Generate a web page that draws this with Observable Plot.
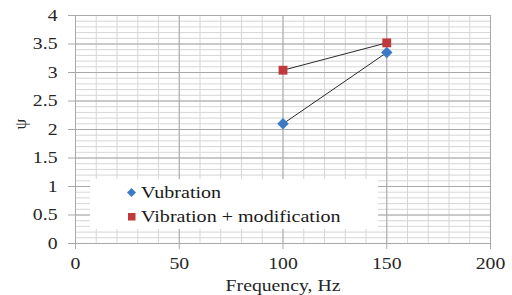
<!DOCTYPE html>
<html><head><meta charset="utf-8">
<script src="https://cdn.jsdelivr.net/npm/d3@7"></script>
<script src="https://cdn.jsdelivr.net/npm/@observablehq/plot@0.6"></script>
<style>
body{margin:0;background:#fff;}
#wrap{position:relative;width:512px;height:295px;}
.legend{position:absolute;left:90px;top:179px;width:288px;height:50px;background:#fff;font-family:'Liberation Serif','Times New Roman',Tinos,serif;font-size:17px;color:#1a1a1a;}
.item{position:absolute;left:36px;height:22px;line-height:22px;white-space:nowrap;}
.item svg{position:absolute;left:0;top:5px;}
.item span{position:absolute;left:15px;top:0;transform:scaleX(1.18);transform-origin:left center;}
</style></head><body><div id="wrap"></div>
<script>
const frequencies = [100, 150];
const vubration = [2.1, 3.35];
const modification = [3.04, 3.52];
const seriesNames = ["Vubration", "Vibration + modification"];
const seriesColors = ["#3d7ac4", "#c0393b"];
const seriesSymbols = ["diamond2", "square"];
const xTicks = [0, 50, 100, 150, 200];
const yTicks = [0, 0.5, 1, 1.5, 2, 2.5, 3, 3.5, 4];
const xLabel = "Frequency, Hz";
const yLabel = "ψ";

const xMinor = d3.range(0, 201, 10);
const yMinor = d3.range(0, 41).map(i => i / 10);

const data = [];
[vubration, modification].forEach((vals, s) => {
  frequencies.forEach((f, i) => data.push({series: seriesNames[s], x: f, y: vals[i]}));
});

const FONT = "'Liberation Serif', 'Times New Roman', Tinos, serif";
const FS = 17;

const chart = Plot.plot({
  width: 512, height: 295,
  marginLeft: 75, marginRight: 22, marginTop: 15, marginBottom: 52,
  style: {fontFamily: FONT, fontSize: FS + "px", color: "#262626", background: "white", overflow: "visible"},
  x: {domain: [0, 200], label: null},
  y: {domain: [0, 4], label: null},
  color: {domain: seriesNames, range: seriesColors},
  symbol: {domain: seriesNames, range: seriesSymbols},
  marks: [
    Plot.ruleX(xMinor, {stroke: "#d6d6d6"}),
    Plot.ruleY(yMinor, {stroke: "#d6d6d6"}),
    Plot.ruleX(xTicks, {stroke: "#a8a8a8"}),
    Plot.ruleY(yTicks, {stroke: "#a8a8a8"}),
    Plot.axisX({ticks: xTicks, tickSize: 6, tickPadding: 7, stroke: "#a8a8a8", fill: "#262626", fontFamily: FONT, fontSize: FS, tickFormat: d => String(d)}),
    Plot.axisY({ticks: yTicks, tickSize: 7, tickPadding: 11, stroke: "#a8a8a8", fill: "#262626", fontFamily: FONT, fontSize: FS, tickFormat: d => String(d)}),
    Plot.line(data, {x: "x", y: "y", z: "series", stroke: "#2a2a2a", strokeWidth: 1}),
    Plot.dot(data.filter(d => d.series === seriesNames[0]), {x: "x", y: "y", symbol: "series", fill: "series", r: 5.2, stroke: "none"}),
    Plot.dot(data.filter(d => d.series === seriesNames[1]), {x: "x", y: "y", symbol: "series", fill: "series", r: 5, stroke: "none"}),
    Plot.text([xLabel], {frameAnchor: "bottom", lineAnchor: "bottom", dy: 47, fill: "#262626", fontFamily: FONT, fontSize: FS}),
    Plot.text([yLabel], {frameAnchor: "left", dx: -55, rotate: -90, fill: "#262626", fontFamily: FONT, fontSize: FS})
  ]
});
const wrap = document.getElementById("wrap");
wrap.appendChild(chart);

// widen text horizontally to match reference proportions
chart.querySelectorAll("text").forEach(t => {
  if (t.textContent === yLabel) return;
  const x = +(t.getAttribute("x") || 0);
  const tr = t.getAttribute("transform") || "";
  t.setAttribute("transform", `${tr} translate(${x},0) scale(1.16,1) translate(${-x},0)`.trim());
});

const legend = document.createElement("div");
legend.className = "legend";
seriesNames.forEach((name, i) => {
  const item = document.createElement("div");
  item.className = "item";
  item.style.top = (3 + i * 24) + "px";
  const shape = i === 0
    ? `<svg width="12" height="12"><path d="M5.5,1L10,5.5L5.5,10L1,5.5Z" fill="${seriesColors[i]}"/></svg>`
    : `<svg width="12" height="12"><rect x="2" y="2" width="7.5" height="7.5" fill="${seriesColors[i]}"/></svg>`;
  item.innerHTML = shape + `<span>${name}</span>`;
  legend.appendChild(item);
});
wrap.appendChild(legend);
</script>
</body></html>
